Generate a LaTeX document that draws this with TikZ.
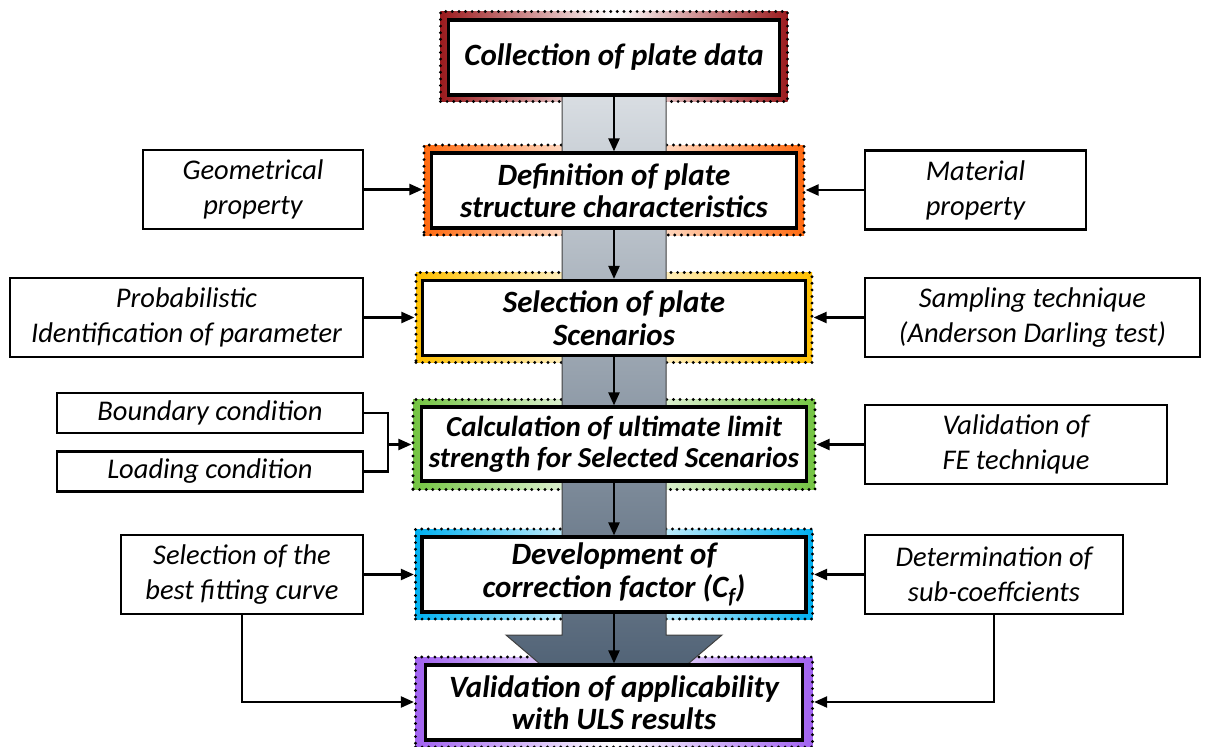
\documentclass[tikz,border=0pt]{standalone}
\usepackage{fontspec}
\setmainfont{Carlito}
\usepackage{tikz}
\usetikzlibrary{positioning, arrows.meta, calc}
\definecolor{stageA}{HTML}{9B1B1E}
\definecolor{stageB}{HTML}{FF6A10}
\definecolor{stageC}{HTML}{FFC000}
\definecolor{stageD}{HTML}{74C442}
\definecolor{stageE}{HTML}{00B0F0}
\definecolor{stageF}{HTML}{A162F0}
\definecolor{flowtop}{HTML}{E1E5E9}
\definecolor{flowbot}{HTML}{43566B}

\tikzset{
  stageframe/.style={minimum width=#1, minimum height=90, inner sep=0pt, draw=black,
    line width=3.2pt, line cap=round, dash pattern=on 0pt off 6.6pt},
  stage/.style={draw, line width=3.2pt, fill=white, minimum width=#1, minimum height=75,
    inner sep=0pt, align=center, font=\fontsize{31}{32.5}\selectfont\bfseries\itshape},
  sidebox/.style={draw, line width=2.4pt, fill=white, minimum width=#1, minimum height=79,
    inner sep=0pt, align=center, font=\fontsize{28.5}{35}\selectfont\itshape},
  arr/.style={line width=2.2pt, -{Triangle[length=13pt,width=11pt]}},
}

\begin{document}
\begin{tikzpicture}[x=1pt, y=-1pt]
\useasboundingbox (0,0) rectangle (1211,747);

% coloured frames
\node[stageframe=347, left color=stageA, right color=stageA, middle color=white] (collectf) at (614,56.5) {};
\node[stageframe=380, left color=stageB, right color=stageB, middle color=white] (definef) at (614,190) {};
\node[stageframe=396, left color=stageC, right color=stageC, middle color=white] (selectf) at (614,317.5) {};
\node[stageframe=402, left color=stageD, right color=stageD, middle color=white] (calcf) at (614,444.5) {};
\node[stageframe=397, left color=stageE, right color=stageE, middle color=white] (developf) at (614,574) {};
\node[stageframe=397, left color=stageF, right color=stageF, middle color=white] (validf) at (614,702) {};

% big flow arrow
\draw[draw=black!75, line width=1pt, top color=flowtop, bottom color=flowbot]
  (562,60) -- (562,635) -- (506,635) -- (614,727) -- (722,635) -- (666,635) -- (666,60) -- cycle;

% stages
\node[stage=331] (collect) at (614,57.5) {Collection of plate data};
\node[stage=365] (define) at (614,190.5) {Definition of plate\\structure characteristics};
\node[stage=383] (select) at (614,318) {Selection of plate\\Scenarios};
\node[stage=385, minimum height=74, font=\fontsize{29}{31}\selectfont\bfseries\itshape] (calc) at (614,444) {Calculation of ultimate limit\\strength for Selected Scenarios};
\node[stage=384] (develop) at (614,574.5) {Development of\\correction factor (C\textsubscript{f})};
\node[stage=377] (valid) at (614,702.5) {Validation of applicability\\with ULS results};

\draw[arr] (collect) -- (define);
\draw[arr] (define) -- (select);
\draw[arr] (select) -- (calc);
\draw[arr] (calc) -- (develop);
\draw[arr] (develop) -- (valid);

% inputs
\node[sidebox=220] (geom) at (253,189.5) {Geometrical\\property};
\node[sidebox=353] (prob) at (186.5,317.5) {Probabilistic\\Identification of parameter};
\node[sidebox=306, minimum height=40] (bound) at (210,413) {Boundary condition};
\node[sidebox=306, minimum height=40] (load) at (210,471.5) {Loading condition};
\node[sidebox=242] (fitcurve) at (242,574.5) {Selection of the\\best fitting curve};
\node[sidebox=221] (mat) at (975.5,190) {Material\\property};
\node[sidebox=335] (samp) at (1032.5,317.5) {Sampling technique\\(Anderson Darling test)};
\node[sidebox=302] (fetech) at (1016,444.5) {Validation of\\FE technique};
\node[sidebox=258] (subcoef) at (994,574.5) {Determination of\\sub-coeffcients};

\coordinate (join) at (388,444.5);

\draw[arr] (geom.east) -- (geom.east -| definef.west);
\draw[arr] (mat.west) -- (mat.west -| definef.east);
\draw[arr] (prob.east) -- (prob.east -| selectf.west);
\draw[arr] (samp.west) -- (samp.west -| selectf.east);
\draw[line width=2.2pt] (bound.east) -| (join) |- (load.east);
\draw[arr] (join) -- (calcf.west);
\draw[arr] (fetech.west) -- (fetech.west -| calcf.east);
\draw[arr] (fitcurve.east) -- (fitcurve.east -| developf.west);
\draw[arr] (subcoef.west) -- (subcoef.west -| developf.east);
\draw[arr] (fitcurve.south) |- (validf.west);
\draw[arr] (subcoef.south) |- (validf.east);
\end{tikzpicture}
\end{document}
